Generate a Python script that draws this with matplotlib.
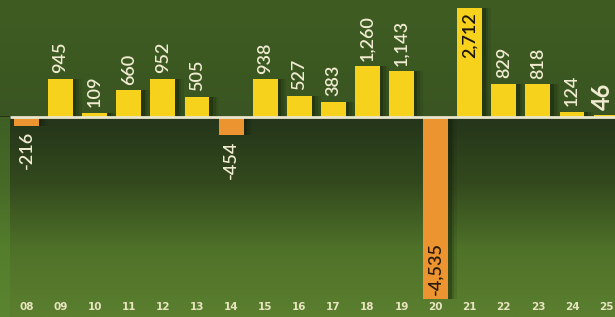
import numpy as np
import matplotlib.pyplot as plt
from matplotlib.colors import LinearSegmentedColormap

years = ["08", "09", "10", "11", "12", "13", "14", "15", "16",
         "17", "18", "19", "20", "21", "22", "23", "24", "25"]
values = [-216, 945, 109, 660, 952, 505, -454, 938, 527,
          383, 1260, 1143, -4535, 2712, 829, 818, 124, 46]

YELLOW = "#f7d21c"
ORANGE = "#ec9530"
CREAM = "#f1ecd2"

fig = plt.figure(figsize=(6.15, 3.17), dpi=100)
ax = fig.add_axes([0, 0, 1, 1])

x = np.arange(len(years))
x0, x1 = -0.777, 17.26
y0, y1 = -4980, 2913
ax.set_xlim(x0, x1)
ax.set_ylim(y0, y1)
ax.axis("off")

# background: flat green above zero, dark-to-light gradient below
top_cmap = LinearSegmentedColormap.from_list("top", ["#3a5521", "#3f5d23"])
bot_cmap = LinearSegmentedColormap.from_list("bot", ["#24351a", "#33491d", "#4f7229", "#5b7f2f"])
ax.imshow(np.linspace(0, 1, 50).reshape(-1, 1), cmap=top_cmap, aspect="auto",
          extent=[x0, x1, 0, y1], origin="lower", zorder=0)
ax.imshow(np.linspace(0, 1, 200).reshape(-1, 1), cmap=bot_cmap, aspect="auto",
          extent=[x0, x1, 0, y0], origin="lower", zorder=0)
ax.axvspan(x0, -0.49, ymin=0, ymax=(0 - y0) / (y1 - y0), color="#5a8a30", alpha=0.5, zorder=0.5, lw=0)

colors = [YELLOW if v >= 0 else ORANGE for v in values]

# soft shadow right of each bar
for dx, a in [(0.10, 0.3), (0.18, 0.18), (0.26, 0.1)]:
    ax.bar(x + dx, values, width=0.73, color="#101a08", alpha=a, zorder=1, lw=0)
ax.bar(x, values, width=0.73, color=colors, zorder=2, lw=0)

ax.plot([-0.49, x1], [0, 0], color="#e9e6cc", lw=2, zorder=3, solid_capstyle="butt")

lab_font = dict(family="Lato", weight="semibold", rotation=90, ha="center", zorder=4)
for xi, v in zip(x, values):
    lab = f"{v:,}"
    if v == max(values):
        ax.annotate(lab, (xi, v), xytext=(0, -3), textcoords="offset points",
                    va="top", color="#1a1408", fontsize=13, **lab_font)
    elif v == min(values):
        ax.annotate(lab, (xi, v), xytext=(0, 3), textcoords="offset points",
                    va="bottom", color="#2a1a08", fontsize=13, **lab_font)
    elif xi == len(values) - 1:
        ax.annotate(lab, (xi - 0.1, v), xytext=(0, 4), textcoords="offset points",
                    va="bottom", color=CREAM, fontsize=17,
                    **{**lab_font, "weight": "bold"})
    elif v >= 0:
        ax.annotate(lab, (xi, v), xytext=(0, 4), textcoords="offset points",
                    va="bottom", color=CREAM, fontsize=13, **lab_font)
    else:
        ax.annotate(lab, (xi, v), xytext=(0, -4), textcoords="offset points",
                    va="top", color=CREAM, fontsize=13, **lab_font)

for xi, yr in zip(x, years):
    ax.text(xi, 0.032, yr, transform=ax.get_xaxis_transform(), ha="center", va="center",
            color="#e8e4c0", fontsize=7.5, family="Liberation Sans Narrow", weight="bold", zorder=4)

fig.savefig("out.png", dpi=100)
